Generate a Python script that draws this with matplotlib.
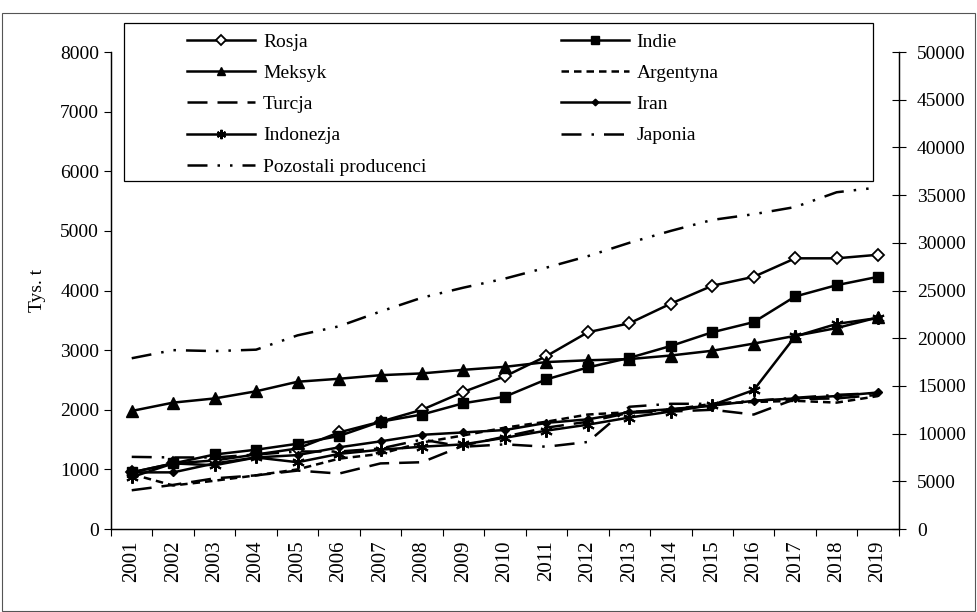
import numpy as np
import matplotlib.pyplot as plt
from matplotlib.patches import Rectangle

plt.rcParams['font.family'] = ['Liberation Serif', 'DejaVu Serif']
plt.rcParams['font.size'] = 13

years = [str(y) for y in range(2001, 2020)]

# thousand tonnes (left axis)
rosja = [950, 1100, 1150, 1250, 1350, 1620, 1800, 2000, 2300, 2560, 2900, 3300,
         3450, 3780, 4080, 4230, 4540, 4540, 4600]
indie = [950, 1100, 1250, 1330, 1430, 1560, 1800, 1920, 2110, 2220, 2510, 2710,
         2870, 3070, 3300, 3470, 3900, 4090, 4230]
meksyk = [1980, 2120, 2190, 2310, 2470, 2520, 2580, 2610, 2670, 2720, 2800, 2830,
          2850, 2910, 2990, 3110, 3240, 3370, 3550]
argentyna = [920, 730, 810, 900, 1000, 1180, 1260, 1450, 1570, 1700, 1800, 1920,
             1960, 2000, 2100, 2130, 2150, 2120, 2230]
turcja = [650, 740, 850, 900, 980, 930, 1100, 1120, 1400, 1550, 1700, 1800,
          1950, 1970, 2000, 1920, 2180, 2190, 2250]
iran = [950, 950, 1100, 1200, 1240, 1370, 1470, 1580, 1620, 1660, 1780, 1840,
        1960, 2010, 2070, 2150, 2190, 2230, 2290]
indonezja = [870, 1100, 1070, 1200, 1120, 1260, 1330, 1380, 1420, 1530, 1650, 1750,
             1870, 1970, 2080, 2330, 3230, 3440, 3540]
japonia = [1210, 1200, 1200, 1250, 1300, 1300, 1350, 1500, 1380, 1420, 1380, 1460,
           2050, 2100, 2100, 2150, 2200, 2250, 2280]
# right axis
pozostali = [17900, 18750, 18650, 18800, 20300, 21250, 22800, 24250, 25300, 26250,
             27400, 28600, 30000, 31250, 32400, 33000, 33750, 35300, 35800]

x = np.arange(len(years))

fig = plt.figure(figsize=(9.77, 6.12), dpi=100)
ax = fig.add_axes([0.1136, 0.1356, 0.8064, 0.7794])
ax2 = ax.twinx()

lw = 1.8
kw = dict(color='black', lw=lw)
l_ros, = ax.plot(x, rosja, marker='D', ms=6.5, mfc='white', mec='black', mew=1.3, label='Rosja', **kw)
l_ind, = ax.plot(x, indie, marker='s', ms=7.5, mfc='black', mec='black', label='Indie', **kw)
l_mek, = ax.plot(x, meksyk, marker='^', ms=8.5, mfc='black', mec='black', label='Meksyk', **kw)
l_arg, = ax.plot(x, argentyna, ls=(0, (3, 2)), label='Argentyna', **kw)
l_tur, = ax.plot(x, turcja, ls=(0, (8, 4)), label='Turcja', **kw)
l_ira, = ax.plot(x, iran, marker='D', ms=4.5, mfc='black', mec='black', label='Iran', **kw)
l_idn, = ax.plot(x, indonezja, marker=(6, 2, 0), ms=9, mec='black', mew=1.5, label='Indonezja', **kw)
l_jap, = ax.plot(x, japonia, ls=(0, (8, 4, 1, 4)), label='Japonia', **kw)
l_poz, = ax2.plot(x, pozostali, ls=(0, (8, 4, 1, 4, 1, 4)), label='Pozostali producenci', **kw)

ax.set_xlim(-0.5, len(years) - 0.5)
ax.set_ylim(0, 8000)
ax2.set_ylim(0, 50000)
ax.set_yticks(range(0, 8001, 1000))
ax2.set_yticks(range(0, 50001, 5000))

ax.set_xticks(np.arange(-0.5, len(years), 1.0))
ax.set_xticklabels([])
ax.set_xticks(x, minor=True)
ax.set_xticklabels(years, minor=True, rotation=90, fontsize=15)
ax.tick_params(axis='x', which='minor', length=0, pad=8)
ax.tick_params(axis='x', which='major', direction='out', length=5)
ax.tick_params(axis='y', direction='out', length=5, labelsize=14)
ax2.tick_params(axis='y', direction='inout', length=10, labelsize=14, pad=8)

for a in (ax, ax2):
    a.spines['top'].set_visible(False)
    for s in a.spines.values():
        s.set_linewidth(0.9)
ax.set_ylabel('Tys. t', fontsize=14, labelpad=10)

# legend box (drawn separately so entries can sit inside with wide margins)
fig.patches.append(Rectangle((0.127, 0.7042), 0.7665, 0.2582, transform=fig.transFigure,
                             facecolor='white', edgecolor='black', lw=0.9, zorder=4))
order = [l_ros, l_mek, l_tur, l_idn, l_poz, l_ind, l_arg, l_ira, l_jap]
leg = fig.legend(handles=order, ncol=2, loc='upper left', bbox_to_anchor=(0.1914, 0.946),
                 frameon=False, handlelength=3.5, handletextpad=0.41, fontsize=14,
                 columnspacing=6.9, labelspacing=0.70, borderpad=0, borderaxespad=0,
                 markerscale=0.75)
leg.set_zorder(5)

fig.patches.append(Rectangle((0.002, 0.002), 0.996, 0.976, transform=fig.transFigure,
                             fill=False, edgecolor='#555555', lw=0.8))

fig.savefig('out.png', dpi=100)
